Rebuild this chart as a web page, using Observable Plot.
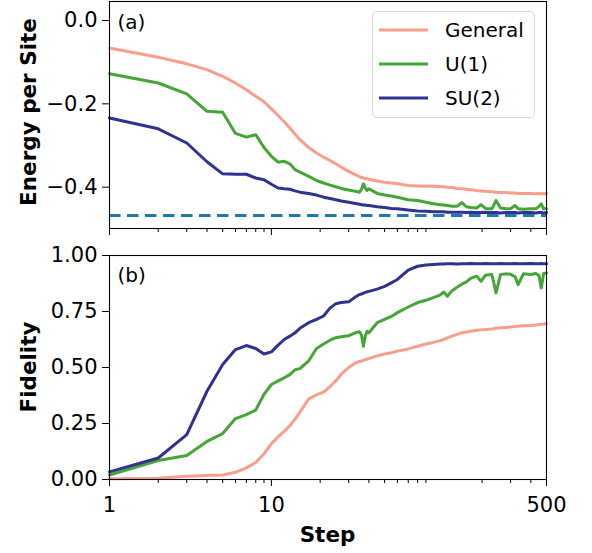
<!DOCTYPE html>
<html><head><meta charset="utf-8">
<script src="https://cdn.jsdelivr.net/npm/d3@7"></script>
<script src="https://cdn.jsdelivr.net/npm/@observablehq/plot@0.6"></script>
<style>
body{margin:0;background:#fff;font-family:"DejaVu Sans",sans-serif;}
#wrap{position:relative;width:592px;height:553px;background:#fff;overflow:hidden;}
.abs{position:absolute;}
.ytitle{position:absolute;transform:translate(-50%,-50%) rotate(-90deg);white-space:nowrap;font-weight:bold;font-size:21.5px;color:#000;}
.xtitle{position:absolute;transform:translate(-50%,-50%);white-space:nowrap;font-weight:bold;font-size:21.5px;color:#000;}
</style>
</head><body><div id="wrap"></div>
<script>
// ---------------- data ----------------
const seriesNames = ["General", "U(1)", "SU(2)"];
const seriesColors = ["#fa9e8b", "#45a637", "#2f3193"];
const groundEnergy = -0.468;

const steps = [1,2,3,4,5,6,7,8,9,10,11,12,13,14,15,17,19,21,23,25,27,30,33,35,36,37,38,39,40,45,50,55,60,70,80,90,100,110,116,122,130,140,150,160,170,185,197,210,230,244,260,280,300,320,334,360,400,430,450,464,480,500];

const energyGeneral = [-0.066,-0.088,-0.104,-0.118,-0.134,-0.150,-0.166,-0.182,-0.195,-0.212,-0.228,-0.243,-0.258,-0.273,-0.286,
 -0.305,-0.318,-0.328,-0.336,-0.344,-0.352,
 -0.362,-0.370,-0.375,
 -0.377,-0.378,-0.379,-0.380,-0.381,
 -0.385,-0.388,-0.390,-0.392,
 -0.396,-0.397,-0.398,-0.398,
 -0.399,-0.399,-0.400,-0.401,-0.403,-0.404,-0.405,-0.406,
 -0.408,-0.409,-0.410,-0.411,-0.412,-0.413,-0.413,-0.414,
 -0.414,-0.415,-0.415,-0.415,-0.416,-0.415,-0.416,-0.416,-0.415];

const energyU1 = [-0.128,-0.150,-0.176,-0.218,-0.220,-0.271,-0.280,-0.274,-0.305,-0.326,-0.340,-0.338,-0.344,-0.358,-0.364,
 -0.374,-0.384,-0.390,-0.395,-0.399,-0.403,
 -0.407,-0.410,-0.412,
 -0.405,-0.392,-0.402,-0.408,-0.404,
 -0.415,-0.419,-0.421,-0.424,
 -0.430,-0.432,-0.436,-0.440,
 -0.442,-0.443,-0.444,-0.446,-0.446,-0.437,-0.447,-0.449,
 -0.450,-0.442,-0.451,-0.452,-0.432,-0.450,-0.452,-0.452,
 -0.444,-0.452,-0.453,-0.452,-0.452,-0.446,-0.440,-0.452,-0.451];

const energySU2 = [-0.234,-0.260,-0.294,-0.339,-0.368,-0.369,-0.369,-0.378,-0.382,-0.393,-0.402,-0.404,-0.405,-0.409,-0.412,
 -0.415,-0.419,-0.424,-0.427,-0.430,-0.433,
 -0.436,-0.439,-0.441,
 -0.442,-0.443,-0.443,-0.444,-0.444,
 -0.447,-0.449,-0.451,-0.452,
 -0.455,-0.457,-0.458,-0.459,
 -0.459,-0.459,-0.460,-0.460,-0.460,-0.460,-0.461,-0.460,
 -0.461,-0.461,-0.460,-0.461,-0.461,-0.462,-0.461,-0.461,
 -0.461,-0.462,-0.461,-0.461,-0.462,-0.461,-0.461,-0.462,-0.461];

const fidelityGeneral = [0.003,0.006,0.014,0.018,0.020,0.032,0.052,0.076,0.115,0.160,0.190,0.215,0.240,0.270,0.300,
 0.360,0.378,0.390,0.415,0.440,0.470,
 0.500,0.520,0.527,
 0.529,0.532,0.535,0.537,0.540,
 0.552,0.560,0.566,0.573,
 0.583,0.595,0.605,0.612,
 0.620,0.625,0.632,0.640,0.648,0.655,0.658,0.662,
 0.666,0.668,0.670,0.672,0.675,0.677,0.679,0.681,
 0.683,0.684,0.686,0.688,0.690,0.692,0.693,0.694,0.696];

const fidelityU1 = [0.020,0.085,0.107,0.170,0.205,0.272,0.290,0.310,0.380,0.424,0.440,0.454,0.468,0.490,0.495,
 0.530,0.585,0.605,0.622,0.633,0.637,
 0.642,0.655,0.660,
 0.645,0.595,0.640,0.662,0.655,
 0.700,0.715,0.728,0.745,
 0.770,0.790,0.800,0.812,
 0.823,0.837,0.818,0.842,0.858,0.872,0.882,0.898,
 0.908,0.885,0.912,0.915,0.833,0.915,0.918,0.916,
 0.905,0.870,0.918,0.915,0.920,0.910,0.855,0.920,0.922];

const fidelitySU2 = [0.034,0.096,0.200,0.394,0.513,0.580,0.598,0.585,0.560,0.570,0.600,0.625,0.640,0.655,0.675,
 0.700,0.715,0.730,0.765,0.785,0.790,
 0.793,0.815,0.826,
 0.828,0.832,0.835,0.838,0.840,
 0.850,0.862,0.878,0.893,
 0.935,0.952,0.958,0.960,
 0.962,0.962,0.963,0.963,0.962,0.963,0.963,0.964,
 0.963,0.963,0.964,0.963,0.963,0.964,0.963,0.963,
 0.964,0.963,0.963,0.964,0.963,0.963,0.964,0.963,0.963];

const xMajorTicks = [1, 10, 500];
const xMinorTicks = [2,3,4,5,6,7,8,9,20,30,40,50,60,70,80,90,200,300,400];
const energyTicks = [0, -0.2, -0.4];
const fidelityTicks = [0, 0.25, 0.5, 0.75, 1];

// ---------------- build ----------------
function rows(valuesList) {
  const out = [];
  valuesList.forEach((vals, k) => {
    steps.forEach((s, i) => out.push({step: s, value: vals[i], series: seriesNames[k]}));
  });
  return out;
}
const energyRows = rows([energyGeneral, energyU1, energySU2]);
const fidelityRows = rows([fidelityGeneral, fidelityU1, fidelitySU2]);

const minus = s => s.replace("-", "\u2212");
const baseStyle = {fontFamily: "DejaVu Sans", fontSize: "21px", color: "#000", background: "transparent", overflow: "visible"};
const xDomain = [1, 500];
// tick-mark positions (the last one nudged just inside the domain end so the axis keeps it)
const xMajorMarks = xMajorTicks.map(t => t === xDomain[1] ? t * 0.99999 : t);

const topPlot = Plot.plot({
  width: 592, height: 240,
  marginLeft: 109, marginRight: 46, marginTop: 1, marginBottom: 12,
  x: {type: "log", domain: xDomain, label: null},
  y: {domain: [-0.4992, 0.0456], label: null},
  color: {domain: seriesNames, range: seriesColors},
  style: baseStyle,
  marks: [
    Plot.line(energyRows, {x: "step", y: "value", z: "series", stroke: "series", strokeWidth: 3}),
    Plot.ruleY([groundEnergy], {stroke: "#1f77b4", strokeWidth: 3, strokeDasharray: "11.5,6.5"}),
    Plot.frame({stroke: "#000", strokeWidth: 1.1}),
    Plot.axisY({ticks: energyTicks, tickSize: 7, tickPadding: 5, tickFormat: d => minus(d.toFixed(1)), label: null}),
    Plot.axisX({ticks: xMajorMarks, tickSize: 7, tickFormat: () => "", label: null}),
    Plot.axisX({ticks: xMinorTicks, tickSize: 4, tickFormat: () => "", label: null}),
    Plot.text(["(a)"], {frameAnchor: "top-left", dx: 8, dy: 13, fontSize: 20, textAnchor: "start", lineAnchor: "top"})
  ]
});

const bottomPlot = Plot.plot({
  width: 592, height: 313,
  marginLeft: 109, marginRight: 46, marginTop: 15, marginBottom: 74,
  x: {type: "log", domain: xDomain, label: null},
  y: {domain: [0, 1], label: null},
  color: {domain: seriesNames, range: seriesColors},
  style: baseStyle,
  marks: [
    Plot.line(fidelityRows, {x: "step", y: "value", z: "series", stroke: "series", strokeWidth: 3}),
    Plot.frame({stroke: "#000", strokeWidth: 1.1}),
    Plot.axisY({ticks: fidelityTicks, tickSize: 7, tickPadding: 5, tickFormat: d => d.toFixed(2), label: null}),
    Plot.axisX({ticks: xMajorMarks, tickSize: 7, tickFormat: () => "", label: null}),
    Plot.axisX({ticks: xMinorTicks, tickSize: 4, tickFormat: () => "", label: null}),
    Plot.text(xMajorTicks, {x: d => d, frameAnchor: "bottom", dy: 18, lineAnchor: "top", textAnchor: "middle", fontSize: 21, text: d => String(d)}),
    Plot.text(["(b)"], {frameAnchor: "top-left", dx: 8, dy: 12, fontSize: 20, textAnchor: "start", lineAnchor: "top"})
  ]
});

const wrap = document.getElementById("wrap");
topPlot.classList.add("abs"); topPlot.style.left = "0px"; topPlot.style.top = "0px";
bottomPlot.classList.add("abs"); bottomPlot.style.left = "0px"; bottomPlot.style.top = "240px";
wrap.appendChild(topPlot);
wrap.appendChild(bottomPlot);

// axis titles
function addTitle(text, cls, x, y) {
  const d = document.createElement("div");
  d.className = cls; d.textContent = text;
  d.style.left = x + "px"; d.style.top = y + "px";
  wrap.appendChild(d);
}
addTitle("Energy per Site", "ytitle", 28, 112);
addTitle("Fidelity", "ytitle", 28, 367);
addTitle("Step", "xtitle", 327.5, 534);

// legend
const leg = d3.select(wrap).append("div")
  .style("position", "absolute").style("left", "372px").style("top", "11px")
  .style("width", "163px").style("height", "107px").style("box-sizing", "border-box")
  .style("border", "1px solid #d6d6d6").style("border-radius", "5px")
  .style("background", "rgba(255,255,255,0.85)");
const lsvg = leg.append("svg").attr("width", 161).attr("height", 105)
  .style("font-family", "DejaVu Sans").style("font-size", "20px");
seriesNames.forEach((name, i) => {
  const cy = 18 + i * 34;
  lsvg.append("line").attr("x1", 6).attr("x2", 55).attr("y1", cy).attr("y2", cy)
    .attr("stroke", seriesColors[i]).attr("stroke-width", 3);
  lsvg.append("text").attr("x", 72).attr("y", cy).attr("dy", "0.36em").attr("fill", "#000").text(name);
});
</script>
</body></html>
